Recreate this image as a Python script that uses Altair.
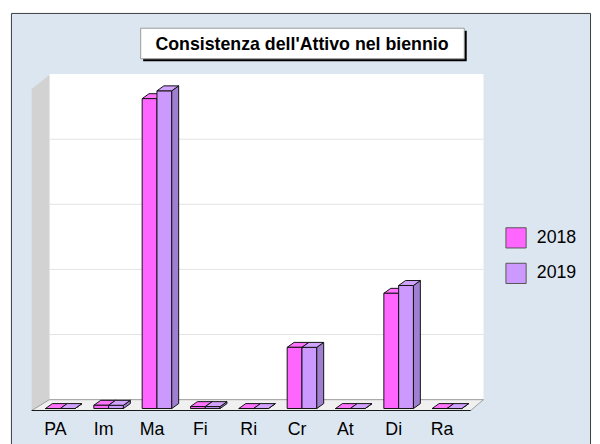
import altair as alt
import pandas as pd

# ---------------- data ----------------
categories = ["PA", "Im", "Ma", "Fi", "Ri", "Cr", "At", "Di", "Ra"]
values_2018 = [0.0, 0.05, 4.76, 0.03, 0.0, 0.94, 0.0, 1.77, 0.0]
values_2019 = [0.0, 0.05, 4.88, 0.03, 0.0, 0.94, 0.0, 1.89, 0.0]
series_names = ["2018", "2019"]

# ---------------- styles ----------------
front_colors = ["#ff66ff", "#cc99ff"]
top_colors = ["#ff73ff", "#d1a3ff"]
side_colors = ["#cc47cc", "#9f80d0"]
FONT = "Liberation Sans"
BG_BLUE = "#dce6f1"

W, H = 592, 440
CAT_STEP = 49.0      # px per category
UNIT_PX = 66.0       # px per value unit
ORIGIN_X = 53.0      # view x of first category centre
BASE_Y = 403.0       # view y of value 0 (front plane)

xs = alt.Scale(domain=[-ORIGIN_X / CAT_STEP, (W - ORIGIN_X) / CAT_STEP], nice=False, zero=False)
ys = alt.Scale(domain=[(BASE_Y - H) / UNIT_PX, BASE_Y / UNIT_PX], nice=False, zero=False)

BAR_W = 15 / CAT_STEP
DX = 7 / CAT_STEP
DY = 5 / UNIT_PX


def px_x(vx):
    return (vx - ORIGIN_X) / CAT_STEP


def px_y(vy):
    return (BASE_Y - vy) / UNIT_PX


# ---------------- tables built from the arrays ----------------
front_rows, side_rows, top_rows = [], [], []
for s_i, (sname, vals) in enumerate(zip(series_names, [values_2018, values_2019])):
    for i, (c, v) in enumerate(zip(categories, vals)):
        x0 = i - BAR_W if s_i == 0 else i
        x1 = x0 + BAR_W
        key = f"{sname}-{c}"
        front_rows.append(dict(cat=c, series=sname, x0=x0, x1=x1, v=v))
        side_rows.append(dict(key=key, series=sname, x=x1, y=v, y2=0.0))
        side_rows.append(dict(key=key, series=sname, x=x1 + DX, y=v + DY, y2=DY))
        top_rows.append(dict(key=key, series=sname, y=v, x=x0, x2=x1))
        top_rows.append(dict(key=key, series=sname, y=v + DY, x=x0 + DX, x2=x1 + DX))

front_df = pd.DataFrame(front_rows)
side_df = pd.DataFrame(side_rows)
top_df = pd.DataFrame(top_rows)
label_df = pd.DataFrame({"cat": categories, "idx": list(range(len(categories)))})

# ---------------- 3D frame geometry (view px) ----------------
WALL_L_FRONT, WALL_L_BACK = 24, 42
FLOOR_FRONT_Y, FLOOR_BACK_Y = 405, 394
WALL_TOP_BACK, WALL_TOP_FRONT = 65, 79
RIGHT_FRONT, RIGHT_BACK = 469, 482
GRID_N = 5

one = alt.Data(values=[{}])

frame = alt.Chart(one).mark_rect(fill=BG_BLUE, stroke="#3c3c3c", strokeWidth=1).encode(
    x=alt.value(3.5), x2=alt.value(590.5), y=alt.value(2.5), y2=alt.value(480)
)
title_shadow = alt.Chart(one).mark_rect(fill="#000000").encode(
    x=alt.value(137), x2=alt.value(465), y=alt.value(20), y2=alt.value(51)
)
title_box = alt.Chart(one).mark_rect(fill="white", stroke="#9a9a9a", strokeWidth=1).encode(
    x=alt.value(134.5), x2=alt.value(462.5), y=alt.value(17.5), y2=alt.value(48.5)
)
title_text = alt.Chart(one).mark_text(
    text="Consistenza dell'Attivo nel biennio", font=FONT, fontSize=18, fontWeight="bold",
    color="black", align="center", baseline="alphabetic"
).encode(x=alt.value(298), y=alt.value(40))

back_wall_df = pd.DataFrame([dict(x=px_x(WALL_L_BACK), x2=px_x(RIGHT_BACK),
                                  y=px_y(FLOOR_BACK_Y), y2=px_y(FLOOR_BACK_Y) + GRID_N)])
back_wall = alt.Chart(back_wall_df).mark_rect(fill="white").encode(
    x=alt.X("x:Q", scale=xs, axis=None), x2="x2:Q",
    y=alt.Y("y:Q", scale=ys, axis=None), y2="y2:Q"
)
grid_df = pd.DataFrame([dict(y=px_y(FLOOR_BACK_Y) + k, x=px_x(WALL_L_BACK), x2=px_x(RIGHT_BACK))
                        for k in range(1, GRID_N)])
grid = alt.Chart(grid_df).mark_rule(color="#e3e3e3", strokeWidth=1).encode(
    x=alt.X("x:Q", scale=xs, axis=None), x2="x2:Q",
    y=alt.Y("y:Q", scale=ys, axis=None)
)
left_wall_df = pd.DataFrame([
    dict(x=px_x(WALL_L_FRONT), y=px_y(WALL_TOP_FRONT), y2=px_y(FLOOR_FRONT_Y)),
    dict(x=px_x(WALL_L_BACK), y=px_y(WALL_TOP_BACK), y2=px_y(FLOOR_BACK_Y)),
])
left_wall = alt.Chart(left_wall_df).mark_area(fill="#d2d2d2", orient="vertical").encode(
    x=alt.X("x:Q", scale=xs, axis=None),
    y=alt.Y("y:Q", scale=ys, axis=None), y2="y2:Q"
)
floor_df = pd.DataFrame([
    dict(y=px_y(FLOOR_FRONT_Y), x=px_x(WALL_L_FRONT), x2=px_x(RIGHT_FRONT)),
    dict(y=px_y(FLOOR_BACK_Y), x=px_x(WALL_L_BACK), x2=px_x(RIGHT_BACK)),
])
floor = alt.Chart(floor_df).mark_area(fill="#f0f0f0", stroke="#9a9a9a", strokeWidth=1,
                                      orient="horizontal").encode(
    y=alt.Y("y:Q", scale=ys, axis=None),
    x=alt.X("x:Q", scale=xs, axis=None), x2="x2:Q"
)
floor_edge = alt.Chart(floor_df.iloc[[0]]).mark_rule(color="#1a1a1a", strokeWidth=1.2).encode(
    y=alt.Y("y:Q", scale=ys, axis=None),
    x=alt.X("x:Q", scale=xs, axis=None), x2="x2:Q"
)


def side_layer(sname, color):
    return alt.Chart(side_df[side_df.series == sname]).mark_area(
        fill=color, stroke="#111111", strokeWidth=1, orient="vertical"
    ).encode(
        x=alt.X("x:Q", scale=xs, axis=None),
        y=alt.Y("y:Q", scale=ys, axis=None), y2="y2:Q",
        detail="key:N"
    )


def top_layer(sname, color):
    return alt.Chart(top_df[top_df.series == sname]).mark_area(
        fill=color, stroke="#111111", strokeWidth=1, orient="horizontal"
    ).encode(
        y=alt.Y("y:Q", scale=ys, axis=None),
        x=alt.X("x:Q", scale=xs, axis=None), x2="x2:Q",
        detail="key:N"
    )


fronts = alt.Chart(front_df).mark_rect(stroke="#111111", strokeWidth=1).encode(
    x=alt.X("x0:Q", scale=xs, axis=None), x2="x1:Q",
    y=alt.Y("v:Q", scale=ys, axis=None), y2=alt.Y2(datum=0),
    color=alt.Color("series:N",
                    scale=alt.Scale(domain=series_names, range=front_colors),
                    legend=alt.Legend(
                        orient="none", legendX=504, legendY=219, title=None,
                        symbolType="square", symbolSize=420,
                        symbolStrokeColor="#555555", symbolStrokeWidth=1,
                        labelFont=FONT, labelFontSize=18, labelColor="black",
                        labelOffset=10, rowPadding=10, padding=0
                    ))
)

labels = alt.Chart(label_df).mark_text(
    font=FONT, fontSize=18, color="black", align="center", baseline="alphabetic", dx=-5
).encode(
    x=alt.X("idx:Q", scale=xs, axis=None),
    y=alt.value(430),
    text="cat:N"
)

chart = alt.layer(
    frame, title_shadow, title_box, title_text,
    back_wall, grid, left_wall, floor, floor_edge,
    side_layer("2018", side_colors[0]), top_layer("2018", top_colors[0]),
    fronts,
    side_layer("2019", side_colors[1]), top_layer("2019", top_colors[1]),
    labels
).properties(
    width=W, height=H, padding=0, autosize=alt.AutoSizeParams(type="none"),
    background="white"
).configure_view(strokeWidth=0)

chart.save("out.html", embed_options={"renderer": "svg", "actions": False})
